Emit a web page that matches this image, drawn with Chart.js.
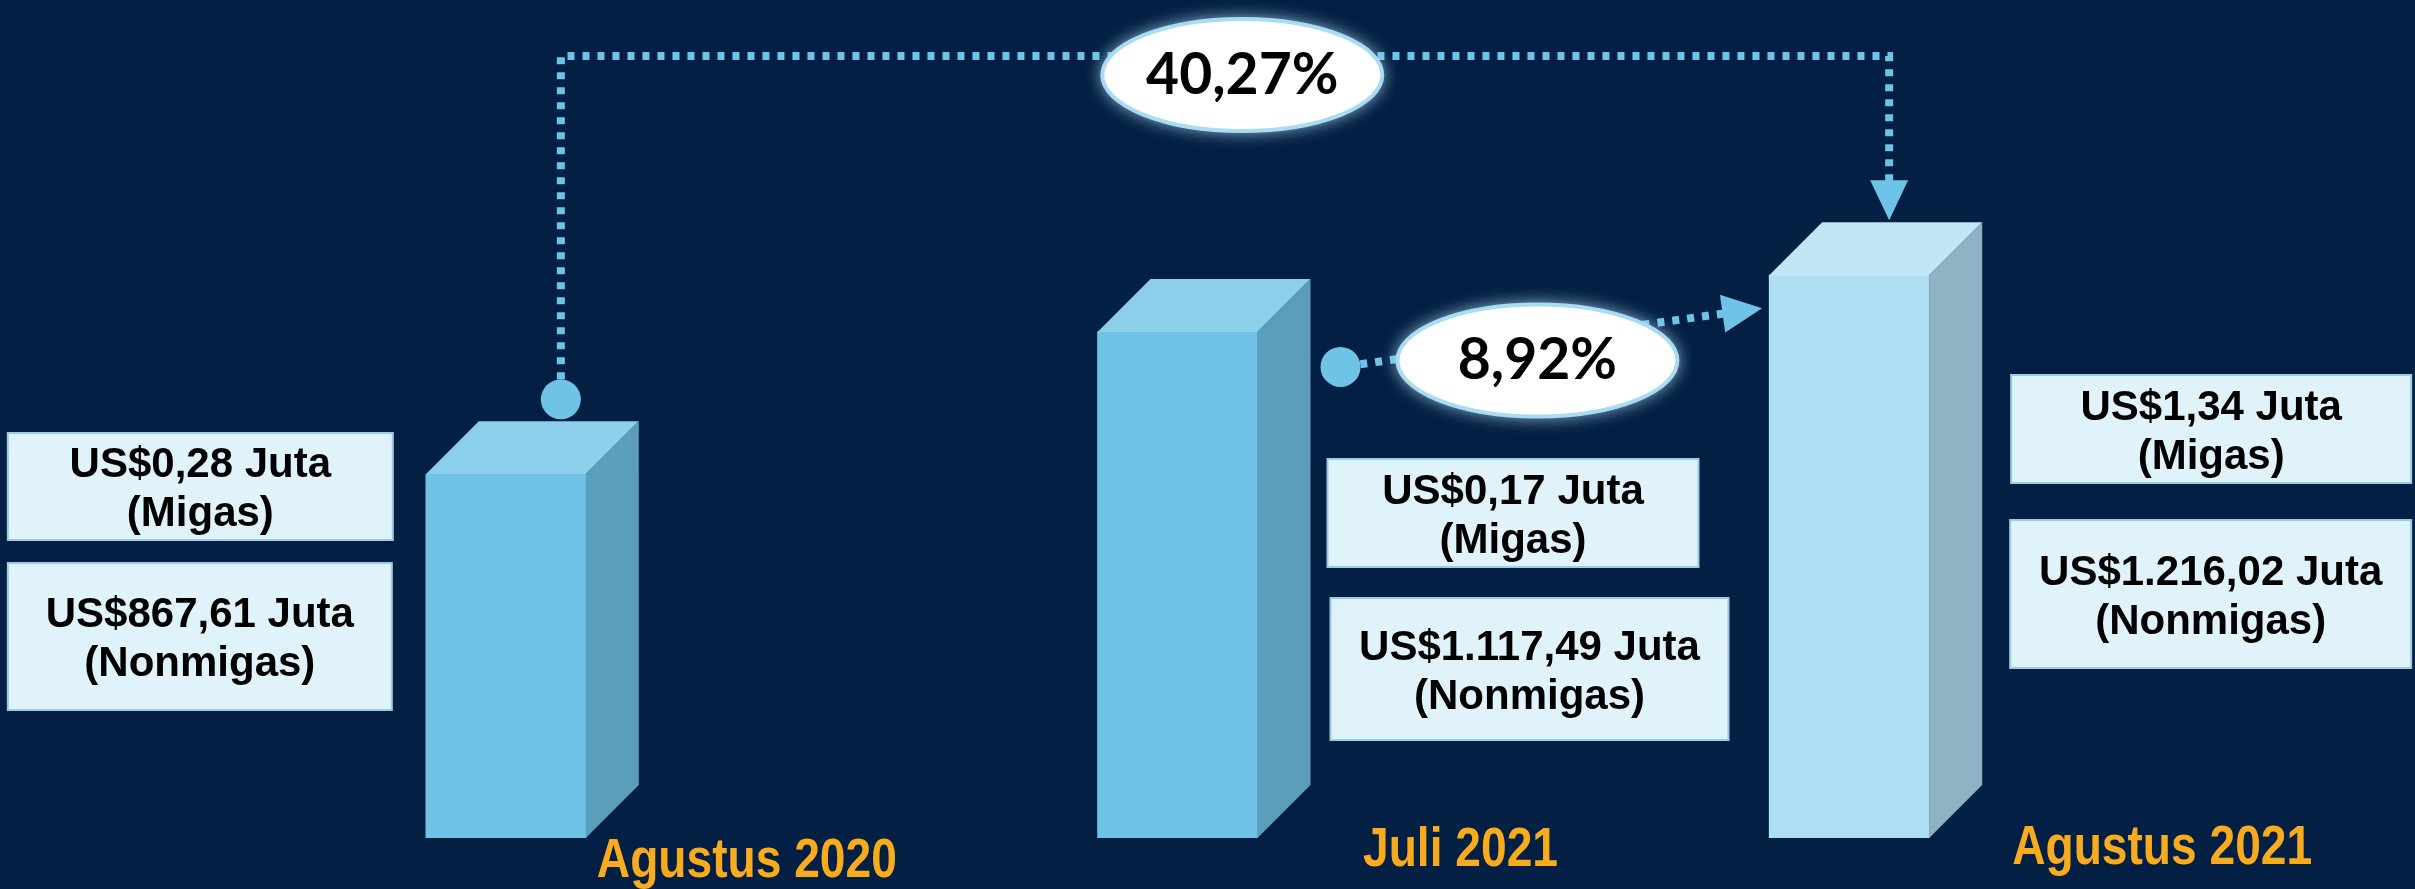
<!DOCTYPE html>
<html>
<head>
<meta charset="utf-8">
<script src="https://cdn.jsdelivr.net/npm/chart.js@4.4.1/dist/chart.umd.min.js"></script>
<style>
  html, body { margin: 0; padding: 0; background: #031f43; }
  #wrap { width: 2415px; height: 889px; overflow: hidden; }
</style>
</head>
<body>
<div id="wrap"><canvas id="chart" width="2415" height="889"></canvas></div>
<script>
// nilai ekspor (juta US$)
const categories = ['Agustus 2020', 'Juli 2021', 'Agustus 2021'];
const migas = [0.28, 0.17, 1.34];
const nonmigas = [867.61, 1117.49, 1216.02];
// pertumbuhan Agustus 2021 terhadap Agustus 2020 dan Juli 2021
const growth = [40.27, 8.92];

const frontColors = ['#6ec3e6', '#6ec3e6', '#aedff2'];
const topColors = ['#8ccfeb', '#8ccfeb', '#c0e5f5'];
const sideColors = ['#5a9ebc', '#5a9ebc', '#8eb3c5'];
const accent = '#6ec3e6';
const DEPTH = 53;

function idNumber(v) {
    const parts = v.toFixed(2).split('.');
    parts[0] = parts[0].replace(/\B(?=(\d{3})+(?!\d))/g, '.');
    return parts.join(',');
}

function barBox(chart, i) {
    const lo = chart.getDatasetMeta(0).data[i];
    const hi = chart.getDatasetMeta(1).data[i];
    return { cx: lo.x, w: lo.width, top: hi.y, base: Math.min(lo.base, chart.chartArea.bottom) };
}

const bars3d = {
    id: 'bars3d',
    afterDatasetsDraw(chart) {
        const { ctx } = chart;
        ctx.save();
        categories.forEach((c, i) => {
            const b = barBox(chart, i);
            const l = b.cx - b.w / 2, r = b.cx + b.w / 2;
            ctx.fillStyle = topColors[i];
            ctx.beginPath();
            ctx.moveTo(l, b.top);
            ctx.lineTo(l + DEPTH, b.top - DEPTH);
            ctx.lineTo(r + DEPTH, b.top - DEPTH);
            ctx.lineTo(r, b.top);
            ctx.closePath();
            ctx.fill();
            ctx.fillStyle = sideColors[i];
            ctx.beginPath();
            ctx.moveTo(r, b.top);
            ctx.lineTo(r + DEPTH, b.top - DEPTH);
            ctx.lineTo(r + DEPTH, b.base - DEPTH);
            ctx.lineTo(r, b.base);
            ctx.closePath();
            ctx.fill();
        });
        ctx.restore();
    }
};

// kotak keterangan: offset x terhadap pusat batang, y absolut
const boxLayout = [
    [{ x0: -498, x1: -113, y0: 433, y1: 540 }, { x0: -498, x1: -114, y0: 563, y1: 710 }],
    [{ x0: 150, x1: 521, y0: 459, y1: 567 }, { x0: 153, x1: 551, y0: 598, y1: 740 }],
    [{ x0: 162, x1: 562, y0: 375, y1: 483 }, { x0: 161, x1: 562, y0: 520, y1: 668 }]
];
// label bulan: geser dari pusat batang, baseline
const labelLayout = [{ dx: 241, y: 877 }, { dx: 283, y: 866 }, { dx: 313, y: 864 }];

function infoBox(ctx, x0, x1, y0, y1, lines) {
    ctx.fillStyle = '#e0f2fa';
    ctx.fillRect(x0, y0, x1 - x0, y1 - y0);
    ctx.lineWidth = 2;
    ctx.strokeStyle = '#9ccbe2';
    ctx.strokeRect(x0, y0, x1 - x0, y1 - y0);
    ctx.fillStyle = '#000';
    ctx.font = 'bold 42px "Liberation Sans", Arial, sans-serif';
    ctx.textAlign = 'center';
    ctx.textBaseline = 'alphabetic';
    const cx = (x0 + x1) / 2, cy = (y0 + y1) / 2;
    ctx.fillText(lines[0], cx, cy - 9.5);
    ctx.fillText(lines[1], cx, cy + 39.5);
}

function bubble(ctx, cx, cy, text) {
    ctx.save();
    ctx.setLineDash([]);
    ctx.shadowColor = 'rgba(175, 222, 245, 0.95)';
    ctx.shadowBlur = 18;
    ctx.beginPath();
    ctx.ellipse(cx, cy, 140, 56, 0, 0, Math.PI * 2);
    ctx.fillStyle = '#ffffff';
    ctx.fill();
    ctx.shadowBlur = 0;
    ctx.lineWidth = 4;
    ctx.strokeStyle = '#a9dcf2';
    ctx.stroke();
    ctx.fillStyle = '#000';
    ctx.font = 'bold 57px Lato, "Open Sans", sans-serif';
    ctx.textAlign = 'center';
    ctx.textBaseline = 'alphabetic';
    ctx.fillText(text, cx, cy + 19);
    ctx.restore();
}

function arrowHead(ctx, tip, from) {
    const a = Math.atan2(tip.y - from.y, tip.x - from.x);
    const len = 40, half = 19;
    const bx = tip.x - Math.cos(a) * len, by = tip.y - Math.sin(a) * len;
    ctx.beginPath();
    ctx.moveTo(tip.x, tip.y);
    ctx.lineTo(bx - Math.sin(a) * half, by + Math.cos(a) * half);
    ctx.lineTo(bx + Math.sin(a) * half, by - Math.cos(a) * half);
    ctx.closePath();
    ctx.fill();
}

const callouts = {
    id: 'callouts',
    afterDraw(chart) {
        const { ctx } = chart;
        const b1 = barBox(chart, 0), b2 = barBox(chart, 1), b3 = barBox(chart, 2);
        ctx.save();

        categories.forEach((c, i) => {
            const b = barBox(chart, i);
            const [m, n] = boxLayout[i];
            infoBox(ctx, b.cx + m.x0, b.cx + m.x1, m.y0, m.y1, ['US$' + idNumber(migas[i]) + ' Juta', '(Migas)']);
            infoBox(ctx, b.cx + n.x0, b.cx + n.x1, n.y0, n.y1, ['US$' + idNumber(nonmigas[i]) + ' Juta', '(Nonmigas)']);

            // nama periode, huruf sempit
            ctx.save();
            ctx.translate(chart.scales.x.getPixelForValue(i) + labelLayout[i].dx, labelLayout[i].y);
            ctx.scale(0.824, 1);
            ctx.fillStyle = '#f8ab1d';
            ctx.font = 'bold 56px "Liberation Sans", Arial, sans-serif';
            ctx.textAlign = 'center';
            ctx.textBaseline = 'alphabetic';
            ctx.fillText(c, 0, 0);
            ctx.restore();
        });

        ctx.strokeStyle = accent;
        ctx.fillStyle = accent;
        ctx.lineWidth = 8;
        ctx.setLineDash([7, 8]);

        // year-on-year connector
        const railY = 56;
        const c1 = { x: b1.cx + 55, y: b1.top - DEPTH - 22 };
        const tip1 = { x: b3.cx + 40, y: b3.top - DEPTH - 2 };
        ctx.beginPath();
        ctx.moveTo(c1.x, c1.y - 20);
        ctx.lineTo(c1.x, railY);
        ctx.lineTo(tip1.x, railY);
        ctx.lineTo(tip1.x, tip1.y - 38);
        ctx.stroke();

        // month-to-month connector
        const c2 = { x: b2.cx + b2.w / 2 + DEPTH + 30, y: b2.top + 35 };
        const tip2 = { x: b3.cx - b3.w / 2 - 7, y: b3.top + 33 };
        const ang = Math.atan2(tip2.y - c2.y, tip2.x - c2.x);
        ctx.beginPath();
        ctx.moveTo(c2.x + 20 * Math.cos(ang), c2.y + 20 * Math.sin(ang));
        ctx.lineTo(tip2.x - 36 * Math.cos(ang), tip2.y - 36 * Math.sin(ang));
        ctx.stroke();
        ctx.setLineDash([]);

        arrowHead(ctx, tip1, { x: tip1.x, y: railY });
        arrowHead(ctx, tip2, c2);
        [c1, c2].forEach(p => {
            ctx.beginPath();
            ctx.arc(p.x, p.y, 20, 0, Math.PI * 2);
            ctx.fill();
        });

        const fmtPct = v => v.toFixed(2).replace('.', ',') + '%';
        bubble(ctx, c1.x + 0.513 * (tip1.x - c1.x), 75, fmtPct(growth[0]));
        bubble(ctx, c2.x + 0.467 * (tip2.x - c2.x), c2.y + 0.467 * (tip2.y - c2.y) + 21, fmtPct(growth[1]));

        ctx.restore();
    }
};

new Chart(document.getElementById('chart'), {
    type: 'bar',
    data: {
        labels: categories,
        datasets: [{
            label: 'Nonmigas',
            data: nonmigas,
            backgroundColor: frontColors,
            borderWidth: 0,
            barThickness: 160
        }, {
            label: 'Migas',
            data: migas,
            backgroundColor: frontColors,
            borderWidth: 0,
            barThickness: 160
        }]
    },
    options: {
        responsive: false,
        animation: false,
        layout: { padding: { left: 170, right: 230, top: 0, bottom: 51 } },
        scales: {
            x: {
                stacked: true,
                display: false
            },
            y: {
                stacked: true,
                display: false,
                min: 230,
                max: 1700
            }
        },
        plugins: {
            legend: { display: false },
            tooltip: { enabled: false }
        }
    },
    plugins: [bars3d, callouts]
});
</script>
</body>
</html>
